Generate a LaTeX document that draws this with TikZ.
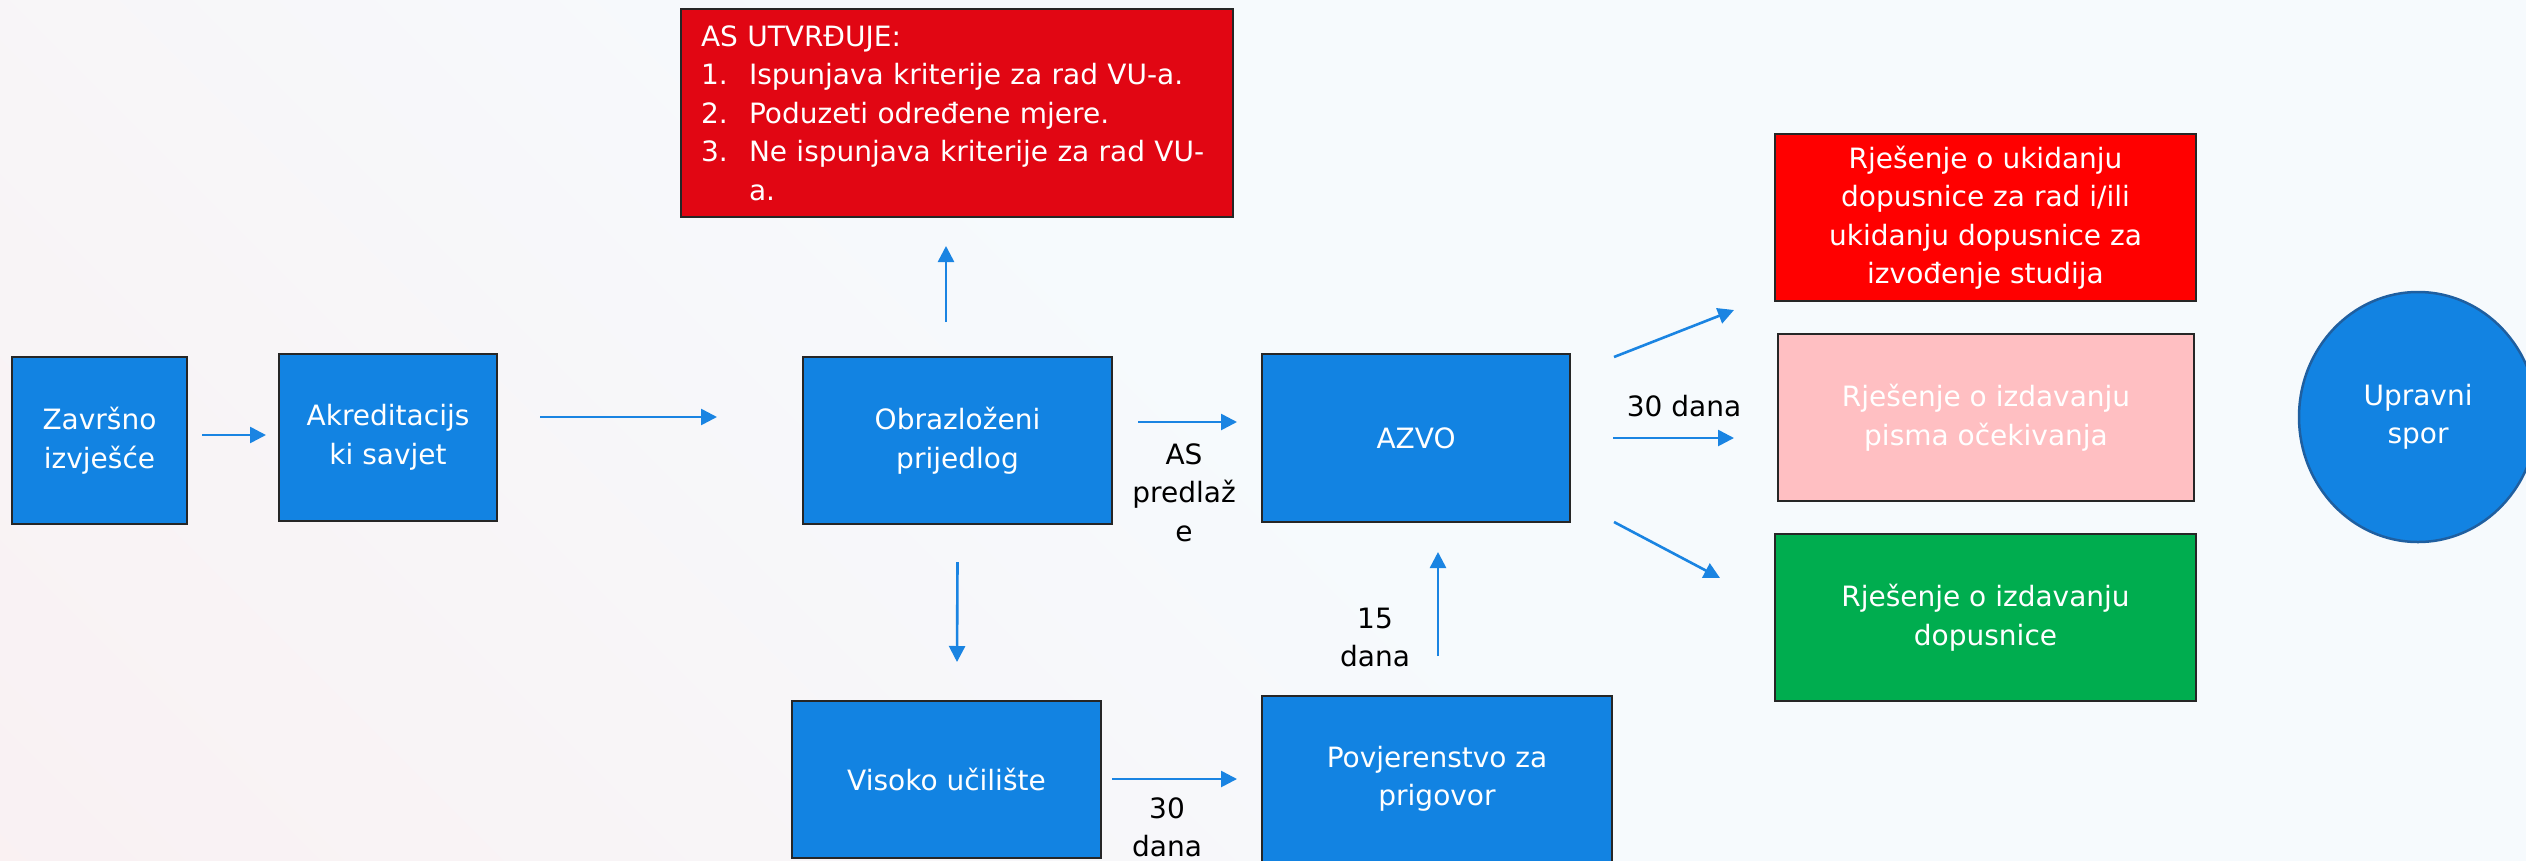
\documentclass[tikz,border=0pt]{standalone}
\usepackage{fontspec}
\setmainfont{DejaVu Sans}
\usetikzlibrary{arrows.meta,shapes.geometric}
\definecolor{boxblue}{HTML}{1283E2}
\definecolor{arrblue}{HTML}{1A84E2}
\definecolor{darkred}{HTML}{E10613}
\definecolor{brightred}{HTML}{FF0000}
\definecolor{pinkbox}{HTML}{FFBFC2}
\definecolor{greenbox}{HTML}{00AD4F}
\definecolor{bgbase}{HTML}{F6FAFD}
\definecolor{bgpink}{HTML}{FBEDEE}
\definecolor{circborder}{HTML}{1F5FA0}
\pgfdeclarehorizontalshading{bgsh}{100bp}{color(0bp)=(bgpink); color(30bp)=(bgpink!40!bgbase); color(50bp)=(bgbase); color(100bp)=(bgbase)}
\begin{document}
\begin{tikzpicture}[x=1pt,y=-1pt,
  every node/.style={font=\fontsize{28}{38.5}\selectfont},
  box/.style={rectangle, draw=black!85, line width=1.4pt, fill=boxblue, text=white, align=center, inner sep=0pt, outer sep=0pt},
  arr/.style={draw=arrblue, line width=2.6pt, -{Triangle[length=16pt,width=16pt]}},
  lbl/.style={text=black, align=center, inner sep=0pt}]
\useasboundingbox (0,0) rectangle (2526,860);
\shade[shading=bgsh, shading angle=45] (0,0) rectangle (2526,860);

\node[box, minimum width=175pt, minimum height=167pt] (zav) at (99.5,440.5) {Završno\\izvješće};
\node[box, minimum width=218pt, minimum height=167pt] (akr) at (388,437.5) {Akreditacijs\\ki savjet};
\node[box, minimum width=309pt, minimum height=167pt] (obr) at (957.5,440.5) {Obrazloženi\\prijedlog};
\node[box, minimum width=308pt, minimum height=168pt] (azvo) at (1416,438) {AZVO};
\node[box, minimum width=309pt, minimum height=157pt] (vis) at (946.5,779.5) {Visoko učilište};
\node[box, minimum width=350pt, minimum height=166pt] (pov) at (1437,779) {Povjerenstvo za\\prigovor};
\node[box, fill=darkred, minimum width=552pt, minimum height=208pt, text width=512pt, align=left] (as) at (957,113)
  {AS UTVRĐUJE:\\
   \makebox[48pt][l]{1.}Ispunjava kriterije za rad VU-a.\\
   \makebox[48pt][l]{2.}Poduzeti određene mjere.\\
   \makebox[48pt][l]{3.}Ne ispunjava kriterije za rad VU-\\
   \hspace*{48pt}a.};
\node[box, fill=brightred, minimum width=421pt, minimum height=167pt] (r1) at (1985.5,217.5)
  {Rješenje o ukidanju\\dopusnice za rad i/ili\\ukidanju dopusnice za\\izvođenje studija};
\node[box, fill=pinkbox, minimum width=416pt, minimum height=167pt] (pink) at (1986,417.5)
  {Rješenje o izdavanju\\pisma očekivanja};
\node[box, fill=greenbox, minimum width=421pt, minimum height=167pt] (green) at (1985.5,617.5)
  {Rješenje o izdavanju\\dopusnice};
\node[ellipse, draw=circborder, line width=2.5pt, fill=boxblue, text=white, minimum width=238pt, minimum height=250pt, inner sep=0pt, align=center] (spor) at (2418,417) {Upravni\\spor};

\node[lbl] (l1) at (1184,492.5) {AS\\predlaž\\e};
\node[lbl] (l2) at (1684,406.5) {30 dana};
\node[lbl] (l3) at (1375,637.5) {15\\dana};
\node[lbl] (l4) at (1167,827.5) {30\\dana};

\draw[arr] ([xshift=15pt,yshift=5.5pt]zav.east) -- ([xshift=-13pt,yshift=2.5pt]akr.west);
\draw[arr] ([xshift=43pt,yshift=20.5pt]akr.east) -- ([xshift=-86pt,yshift=23.5pt]obr.west);
\draw[arr] ([xshift=-11.5pt,yshift=35pt]obr.north) -- ([xshift=-11pt,yshift=-29pt]as.south);
\draw[arr] ([yshift=-38pt]obr.south) -- ([xshift=10.5pt,yshift=39pt]vis.north);
\draw[arr] ([xshift=26pt,yshift=18.5pt]obr.east) -- ([xshift=-25pt,yshift=16pt]azvo.west);
\draw[arr] ([xshift=11pt,yshift=0.5pt]vis.east) -- ([xshift=-25pt]pov.west);
\draw[arr] ([xshift=1pt,yshift=40pt]pov.north) -- ([xshift=22pt,yshift=-30pt]azvo.south);
\draw[arr] ([xshift=44pt,yshift=81pt]azvo.east) -- ([xshift=-41pt,yshift=-9pt]r1.south west);
\draw[arr] ([xshift=43pt]azvo.east) -- ([xshift=-44pt,yshift=-20.5pt]pink.west);
\draw[arr] ([xshift=44pt]azvo.south east) -- ([xshift=-55pt,yshift=-44pt]green.north west);
\end{tikzpicture}
\end{document}
